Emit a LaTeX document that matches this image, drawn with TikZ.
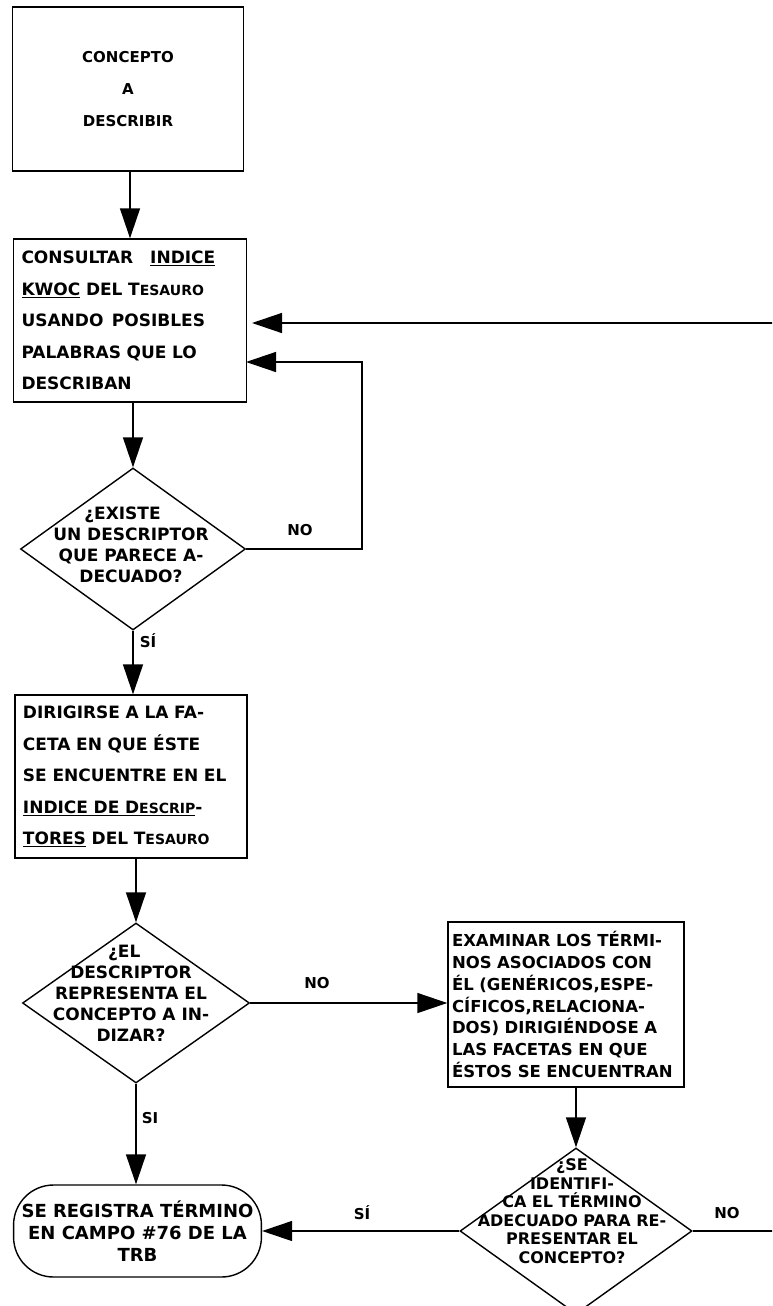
\documentclass[tikz,border=0pt]{standalone}
\usepackage{fontspec}
\setmainfont{DejaVu Sans}
\usetikzlibrary{shapes.geometric,arrows.meta}
\newcommand{\smc}[2]{#1{\fontsize{14}{31}\selectfont #2}}

\begin{document}
\begin{tikzpicture}[x=1pt,y=-1pt,
    box/.style={draw, line width=1.4pt, align=left, inner xsep=8pt,
        font=\bfseries\fontsize{17}{31.5}\selectfont},
    decision/.style={diamond, draw, line width=1.4pt, inner sep=0pt},
    dtext/.style={align=center, inner sep=0pt, font=\bfseries\fontsize{17}{21}\selectfont},
    lbl/.style={font=\bfseries\fontsize{15}{15}\selectfont, inner sep=1pt},
    flow/.style={line width=1.4pt, -{Triangle[length=30pt,width=20pt]}}]
   % \draw[step=50,gray,very thin] (0,0) grid (772,1306);
   \clip (0,0) rectangle (772,1306);
   % left column
   \node[box, align=center, minimum width=231pt, minimum height=164pt,
        font=\bfseries\fontsize{15}{32}\selectfont] (b1) at (128,89) {CONCEPTO\\A\\DESCRIBIR};
   \node[box, text width=217pt, minimum height=163pt] (b2) at (130,320.5)
        {CONSULTAR\quad\underline{INDICE}\\ \underline{KWOC} DEL \smc{T}{ESAURO}\\
         USANDO\enspace POSIBLES\\ PALABRAS QUE LO\\ DESCRIBAN};
   \node[decision, minimum width=225pt, minimum height=162pt] (d1) at (133,549) {};
   \node[dtext] (d1t) at (131,545) {¿EXISTE\hspace*{1em}\\UN DESCRIPTOR\\QUE PARECE A-\\DECUADO?};
   \node[box, text width=216pt, minimum height=163pt] (b3) at (131,776.5)
        {DIRIGIRSE A LA FA-\\ CETA EN QUE ÉSTE\\ SE ENCUENTRE EN EL\\
         \underline{INDICE DE \smc{D}{ESCRIP}}-\\ \underline{TORES} DEL \smc{T}{ESAURO}};
   \node[decision, minimum width=227pt, minimum height=160pt] (d2) at (136,1003) {};
   \node[dtext] (d2t) at (131,993.5) {¿EL\hspace*{0.8em}\\DESCRIPTOR\\REPRESENTA EL\\CONCEPTO A IN-\\DIZAR?};
   \node[box, align=center, rounded corners=40pt, minimum width=245pt, minimum height=92pt,
        font=\bfseries\fontsize{18}{22}\selectfont] (term) at (137.5,1231)
        {SE REGISTRA TÉRMINO\\EN CAMPO \#76 DE LA\\TRB};
   % right column
   \node[box, text width=228pt, minimum height=165pt, inner xsep=4pt,
        font=\bfseries\fontsize{16.5}{21.7}\selectfont] (b4) at (566,1004.5)
        {EXAMINAR LOS TÉRMI-\\NOS ASOCIADOS CON\\ÉL (GENÉRICOS,ESPE-\\CÍFICOS,RELACIONA-\\
         DOS) DIRIGIÉNDOSE A\\LAS FACETAS EN QUE\\ÉSTOS SE ENCUENTRAN};
   \node[decision, minimum width=232pt, minimum height=166pt] (d3) at (576,1231) {};
   \node[dtext, font=\bfseries\fontsize{16}{18.5}\selectfont] (d3t) at (572,1211)
        {¿SE\\IDENTIFI-\\CA EL TÉRMINO\\ADECUADO PARA RE-\\PRESENTAR EL\\CONCEPTO?};
   % labels
   \node[lbl] (no1) at (300,530) {NO};
   \node[lbl] (si1) at (148,641) {SÍ};
   \node[lbl] (no2) at (317,983) {NO};
   \node[lbl] (si2) at (150,1118) {SI};
   \node[lbl] (si3) at (362,1213) {SÍ};
   \node[lbl] (no3) at (727,1213) {NO};
   % loop points
   \coordinate (lp) at (362,0);
   \coordinate (rt) at (778,0);
   \coordinate (in1) at (252,323);
   \coordinate (in2) at (246,362);
   % connectors
   \draw[flow] (b1.south -| b2.north) -- (b2.north);
   \draw[flow] (b2.south -| d1.north) -- (d1.north);
   \draw[flow] (d1.south) -- (d1.south |- b3.north);
   \draw[flow] (b3.south -| d2.north) -- (d2.north);
   \draw[flow] (d2.south) -- (d2.south |- term.north);
   \draw[flow] (d2.east) -- (d2.east -| b4.west);
   \draw[flow] (b4.south -| d3.north) -- (d3.north);
   \draw[flow] (d3.west) -- (d3.west -| term.east);
   \draw[flow] (d1.east) -- (d1.east -| lp) |- (in2);
   \draw[flow] (d3.east) -- (d3.east -| rt) |- (in1);
\end{tikzpicture}
\end{document}
